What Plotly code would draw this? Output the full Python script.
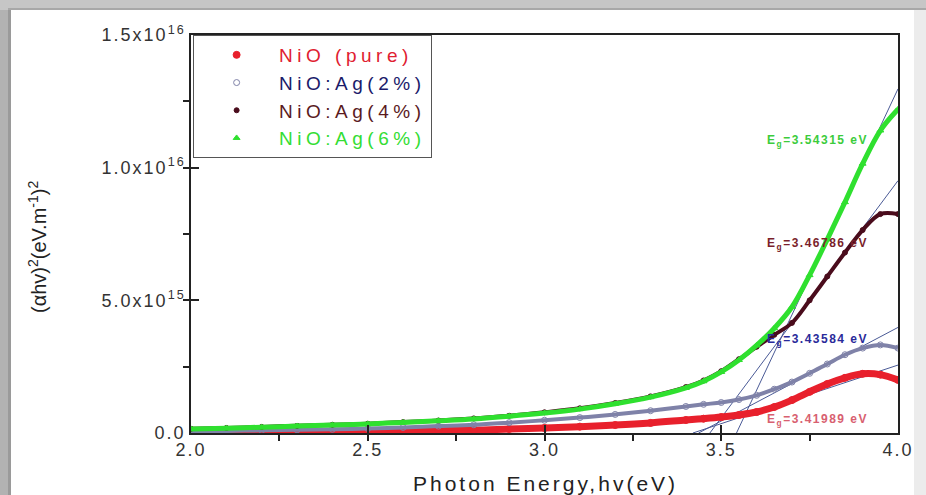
import plotly.graph_objects as go

# ---------------- data ----------------
hv = [2.0, 2.1, 2.2, 2.3, 2.4, 2.5, 2.6, 2.7, 2.8, 2.9, 3.0, 3.1, 3.2, 3.3, 3.4,
      3.45, 3.5, 3.55, 3.6, 3.65, 3.7, 3.75, 3.8, 3.85, 3.9, 3.95, 4.0]

nio_pure = [0.03, 0.035, 0.04, 0.05, 0.06, 0.07, 0.08, 0.095, 0.11, 0.15, 0.19, 0.24, 0.30, 0.38, 0.49,
            0.54, 0.60, 0.68, 0.79, 0.98, 1.24, 1.55, 1.85, 2.08, 2.23, 2.20, 2.00]
nio_ag2 = [0.07, 0.08, 0.10, 0.12, 0.14, 0.17, 0.21, 0.26, 0.31, 0.39, 0.48, 0.58, 0.70, 0.84, 1.00,
           1.08, 1.15, 1.26, 1.42, 1.65, 1.92, 2.25, 2.60, 2.95, 3.20, 3.32, 3.20]
nio_ag4 = [0.16, 0.19, 0.23, 0.27, 0.31, 0.35, 0.41, 0.47, 0.55, 0.65, 0.78, 0.93, 1.13, 1.38, 1.73,
           1.98, 2.33, 2.78, 3.25, 3.70, 4.15, 5.00, 5.90, 6.80, 7.65, 8.25, 8.25]
nio_ag6 = [0.15, 0.18, 0.22, 0.26, 0.30, 0.34, 0.40, 0.46, 0.53, 0.63, 0.75, 0.90, 1.10, 1.35, 1.70,
           1.95, 2.30, 2.75, 3.30, 3.95, 4.75, 5.95, 7.30, 8.70, 10.15, 11.40, 12.20]
scale = 1e15

series_names = ["NiO (pure)", "NiO:Ag(2%)", "NiO:Ag(4%)", "NiO:Ag(6%)"]

# band-gap tangent lines: intercept (eV) and value at 4.0 eV (units of 1e15)
eg_values = [3.41989, 3.43584, 3.46786, 3.54315]
tangent_end = [2.56, 3.98, 9.51, 12.97]
eg_labels = ["3.41989", "3.43584", "3.46786", "3.54315"]
eg_label_y = [0.49, 3.50, 7.14, 11.0]

x_ticks = [2.0, 2.5, 3.0, 3.5, 4.0]
y_ticks = [0, 5e15, 1e16, 1.5e16]
y_ticktext = ["0.0", "5.0x10<sup>15</sup>", "1.0x10<sup>16</sup>", "1.5x10<sup>16</sup>"]

# ---------------- styling ----------------
W, H = 926, 495
L, R, T, B = 191, 28, 35, 62
pw, ph = W - L - R, H - T - B

colors = ["#e8202c", "#7f82a8", "#4a0c1c", "#2fe02f"]
legend_text_colors = ["#e02030", "#1a1a6a", "#5a1a1e", "#33dd33"]
label_colors = ["#d86070", "#2a2a9a", "#7a1f2b", "#3ccc3c"]
symbols = ["circle", "circle-open", "circle", "triangle-up"]
line_widths = [7, 4, 4, 5]
marker_sizes = [7, 6, 5, 6]


def spaced(txt, ls, color=None):
    st = f"letter-spacing:{ls}px"
    if color:
        st += f";color:{color}"
    return f"<span style='{st}'>{txt}</span>"


series = [nio_pure, nio_ag2, nio_ag4, nio_ag6]

fig = go.Figure()

# tangent lines
for eg, te in zip(eg_values, tangent_end):
    fig.add_trace(go.Scatter(x=[eg, 4.0], y=[0, te * scale], mode="lines",
                             line=dict(color="#4a5a96", width=1),
                             showlegend=False, hoverinfo="skip"))

for i, ys in enumerate(series):
    yv = [v * scale for v in ys]
    fig.add_trace(go.Scatter(x=hv, y=yv, mode="lines",
                             line=dict(color=colors[i], width=line_widths[i], shape="spline"),
                             showlegend=False, hoverinfo="skip"))
    fig.add_trace(go.Scatter(x=hv, y=yv, mode="markers",
                             name=spaced(series_names[i], 4.5, legend_text_colors[i]),
                             marker=dict(color=colors[i], size=marker_sizes[i], symbol=symbols[i],
                                         line=dict(color=colors[i], width=1))))

# Eg labels
for i in range(4):
    fig.add_annotation(x=3.624, y=eg_label_y[i] * scale, xref="x", yref="y",
                       text=spaced("<b>E<sub>g</sub>=" + eg_labels[i] + " eV</b>", 1.5),
                       showarrow=False, xanchor="left", yanchor="middle",
                       font=dict(family="Arial, Liberation Sans", size=12, color=label_colors[i]))


def px2x(px):
    return (px - L) / pw


def py2y(py):
    return (H - B - py) / ph


fig.add_annotation(x=px2x(545), y=py2y(483), xref="paper", yref="paper",
                   xanchor="center", yanchor="middle",
                   text=spaced("Photon Energy,hv(eV)", 3), showarrow=False,
                   font=dict(family="Arial, Liberation Sans", size=21, color="#222"))
fig.add_annotation(x=px2x(37), y=py2y(247), xref="paper", yref="paper", textangle=-90,
                   xanchor="center", yanchor="middle",
                   text="(αhv)<sup>2</sup>(eV.m<sup>-1</sup>)<sup>2</sup>", showarrow=False,
                   font=dict(family="Arial, Liberation Sans", size=20, color="#222"))

# picture frame shadow
shapes = []
shapes.append(dict(type="rect", xref="paper", yref="paper", x0=px2x(0), x1=px2x(11),
                   y0=py2y(495), y1=py2y(0), fillcolor="#b2b2b2", line=dict(width=0), layer="below"))
shapes.append(dict(type="rect", xref="paper", yref="paper", x0=px2x(0), x1=px2x(926),
                   y0=py2y(10), y1=py2y(0), fillcolor="#c6c6c6", line=dict(width=0), layer="below"))
shapes.append(dict(type="rect", xref="paper", yref="paper", x0=px2x(8), x1=px2x(11),
                   y0=py2y(495), y1=py2y(8), fillcolor="#9a9a9a", line=dict(width=0), layer="below"))
shapes.append(dict(type="rect", xref="paper", yref="paper", x0=px2x(8), x1=px2x(926),
                   y0=py2y(10), y1=py2y(8), fillcolor="#a8a8a8", line=dict(width=0), layer="below"))
shapes.append(dict(type="rect", xref="paper", yref="paper", x0=px2x(914), x1=px2x(926),
                   y0=py2y(495), y1=py2y(10), fillcolor="#ececec", line=dict(width=0), layer="below"))
fig.update_layout(shapes=shapes)

fig.update_layout(
    width=W, height=H,
    margin=dict(l=L, r=R, t=T, b=B),
    paper_bgcolor="white", plot_bgcolor="white",
    font=dict(family="Arial, Liberation Sans", color="#333"),
    legend=dict(x=0.003, y=1, xanchor="left", yanchor="top",
                bgcolor="white", bordercolor="#555", borderwidth=1,
                font=dict(size=19, family="Arial, Liberation Sans"),
                itemwidth=75, tracegroupgap=0),
    xaxis=dict(range=[2.0, 4.0], tickvals=x_ticks,
               ticktext=[spaced(f"{v:.1f}", 2) for v in x_ticks],
               showgrid=False, zeroline=False, showline=True, linecolor="#222", linewidth=1.5,
               mirror=True, ticks="inside", ticklen=8, tickwidth=1.5, tickcolor="#222",
               tickfont=dict(size=18, color="#333"),
               minor=dict(tickmode="linear", tick0=2.0, dtick=0.25, ticks="outside",
                          ticklen=6, tickwidth=1.5, tickcolor="#222")),
    yaxis=dict(range=[0, 1.5e16], tickvals=y_ticks,
               ticktext=[spaced(t, 2) for t in y_ticktext],
               showgrid=False, zeroline=False, showline=True, linecolor="#222", linewidth=1.5,
               mirror=True, ticks="inside", ticklen=8, tickwidth=1.5, tickcolor="#222",
               tickfont=dict(size=18, color="#333"),
               minor=dict(tickmode="linear", tick0=0, dtick=2.5e15, ticks="outside",
                          ticklen=6, tickwidth=1.5, tickcolor="#222")),
)

fig.write_html("out.html")
